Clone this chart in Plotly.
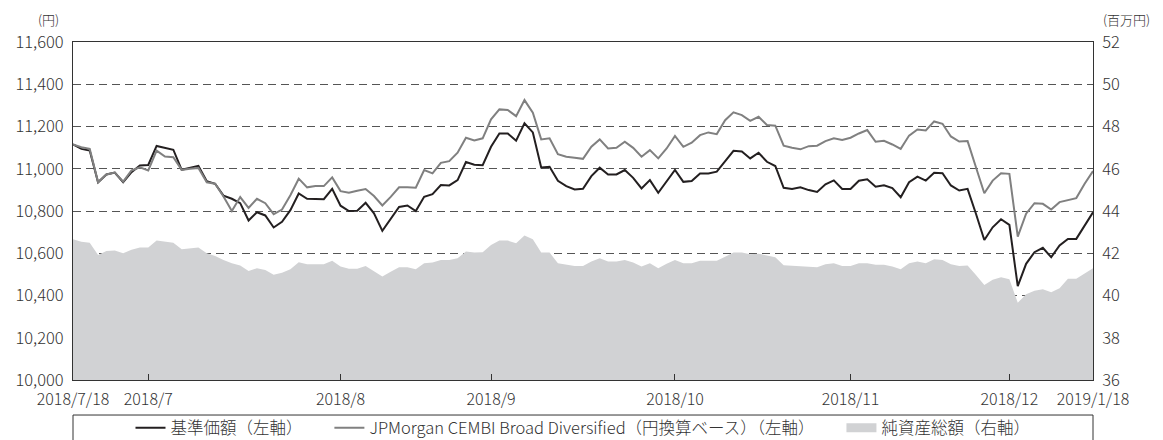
import pandas as pd
import plotly.graph_objects as go

# ---- data ----
jp_holidays = ['2018-09-17', '2018-09-24', '2018-10-08', '2018-11-23', '2018-12-24',
               '2018-12-31', '2019-01-01', '2019-01-02', '2019-01-03', '2019-01-14']
dates = [d for d in pd.bdate_range('2018-07-18', '2019-01-18')
         if d.strftime('%Y-%m-%d') not in jp_holidays]
x_dates = [d.strftime('%Y-%m-%d') for d in dates]

nav = [11115, 11094, 11086, 10936, 10973, 10982, 10936, 10984, 11015, 11018,
       11108, 11099, 11090, 10995, 11004, 11014, 10941, 10929, 10873, 10858,
       10837, 10755, 10794, 10779, 10722, 10749, 10804, 10883, 10858, 10856,
       10856, 10905, 10825, 10800, 10801, 10839, 10789, 10706, 10765, 10819,
       10826, 10800, 10867, 10880, 10923, 10921, 10946, 11032, 11019, 11017,
       11104, 11167, 11167, 11133, 11215, 11172, 11006, 11009, 10943, 10918,
       10902, 10905, 10965, 11005, 10973, 10973, 10994, 10957, 10907, 10946,
       10886, 10940, 10994, 10938, 10942, 10978, 10978, 10986, 11036, 11085,
       11082, 11049, 11076, 11033, 11013, 10910, 10904, 10912, 10899, 10890,
       10926, 10945, 10904, 10904, 10943, 10950, 10915, 10922, 10908, 10865,
       10936, 10963, 10944, 10981, 10979, 10921, 10897, 10905, 10787, 10663,
       10723, 10761, 10734, 10444, 10550, 10605, 10626, 10581, 10637, 10668,
       10668, 10731, 10794]

benchmark = [11115, 11102, 11094, 10936, 10973, 10982, 10939, 10992, 11007, 10992,
             11086, 11058, 11055, 10995, 11000, 11004, 10936, 10929, 10869, 10800,
             10866, 10815, 10858, 10837, 10785, 10807, 10875, 10953, 10912, 10918,
             10918, 10959, 10894, 10886, 10896, 10904, 10871, 10826, 10867, 10912,
             10913, 10910, 10994, 10978, 11028, 11036, 11076, 11147, 11134, 11144,
             11234, 11281, 11278, 11249, 11325, 11265, 11139, 11144, 11069, 11057,
             11052, 11047, 11104, 11139, 11096, 11099, 11128, 11099, 11057, 11088,
             11049, 11096, 11155, 11104, 11123, 11159, 11172, 11164, 11230, 11267,
             11254, 11227, 11246, 11207, 11204, 11109, 11099, 11092, 11107, 11109,
             11131, 11144, 11136, 11147, 11167, 11183, 11128, 11132, 11115, 11094,
             11157, 11186, 11181, 11224, 11213, 11153, 11129, 11131, 11007, 10884,
             10944, 10979, 10976, 10679, 10787, 10837, 10834, 10807, 10842, 10850,
             10861, 10929, 10989]

net_assets = [42.66, 42.55, 42.50, 41.92, 42.11, 42.13, 42.00, 42.16, 42.27, 42.27,
              42.60, 42.55, 42.50, 42.19, 42.24, 42.27, 42.00, 41.87, 41.68, 41.53,
              41.42, 41.16, 41.29, 41.21, 40.98, 41.08, 41.24, 41.57, 41.48, 41.48,
              41.48, 41.64, 41.37, 41.27, 41.27, 41.40, 41.13, 40.90, 41.13, 41.34,
              41.34, 41.24, 41.53, 41.56, 41.68, 41.68, 41.76, 42.08, 42.03, 42.05,
              42.39, 42.60, 42.60, 42.47, 42.84, 42.66, 42.03, 42.03, 41.53, 41.45,
              41.40, 41.40, 41.61, 41.76, 41.61, 41.61, 41.68, 41.56, 41.37, 41.53,
              41.29, 41.50, 41.68, 41.53, 41.53, 41.64, 41.65, 41.65, 41.84, 42.03,
              42.03, 41.95, 41.98, 41.89, 41.81, 41.43, 41.40, 41.40, 41.37, 41.34,
              41.48, 41.53, 41.40, 41.40, 41.53, 41.53, 41.45, 41.45, 41.37, 41.24,
              41.53, 41.61, 41.53, 41.72, 41.68, 41.48, 41.40, 41.42, 40.97, 40.50,
              40.74, 40.86, 40.77, 39.66, 40.06, 40.23, 40.30, 40.15, 40.34, 40.79,
              40.79, 41.02, 41.29]

series_names = ['基準価額（左軸）',
                'JPMorgan CEMBI Broad Diversified（円換算ベース）（左軸）',
                '純資産総額（右軸）']

left_ticks = [10000, 10200, 10400, 10600, 10800, 11000, 11200, 11400, 11600]
right_ticks = [36, 38, 40, 42, 44, 46, 48, 50, 52]

# tick positions: first day, last business day of each month, last day
month_ends = {}
for d in dates:
    month_ends[(d.year, d.month)] = d
tick_vals = [x_dates[0]]
tick_text = ['2018/7/18']
for (yy, mm), d in month_ends.items():
    if (yy, mm) == (2019, 1):
        continue
    tick_vals.append(d.strftime('%Y-%m-%d'))
    tick_text.append(f'{yy}/{mm}')
tick_vals.append(x_dates[-1])
tick_text.append('2019/1/18')

FONT = 'Noto Sans CJK JP'
TXT = '#333333'
AREA = '#d1d2d4'
PAD = '\u00a0' * 6

fig = go.Figure()
fig.add_trace(go.Scatter(x=x_dates, y=net_assets, yaxis='y2', mode='lines',
                         fill='tozeroy', fillcolor=AREA, line=dict(width=0, color=AREA),
                         showlegend=False, hoverinfo='skip'))
fig.add_trace(go.Scatter(x=x_dates, y=nav, mode='lines', name=series_names[0] + PAD,
                         line=dict(color='#231f20', width=2)))
fig.add_trace(go.Scatter(x=x_dates, y=benchmark, mode='lines', name=series_names[1] + PAD,
                         line=dict(color='#808080', width=2)))
fig.add_trace(go.Scatter(x=[None], y=[None], yaxis='y2', mode='lines', name=series_names[2],
                         line=dict(color=AREA, width=9)))

fig.update_layout(
    width=1163, height=440,
    margin=dict(l=73, r=70, t=42, b=60, autoexpand=False),
    paper_bgcolor='white', plot_bgcolor='white',
    font=dict(family=FONT, size=16, color=TXT, weight=300),
    xaxis=dict(type='category', range=[0, len(x_dates) - 1], automargin=False,
               tickmode='array', tickvals=tick_vals, ticktext=tick_text,
               ticks='inside', ticklen=6, tickcolor='#333333', tickwidth=1,
               showline=True, linecolor='#333333', linewidth=1, mirror=True,
               showgrid=False, ticklabelstandoff=5,
               tickfont=dict(size=16, color=TXT, weight=300)),
    yaxis=dict(range=[10000, 11600], tickvals=left_ticks, automargin=False,
               tickformat=',d',
               showgrid=True, gridcolor='#555555', gridwidth=1, griddash='8px,5px',
               showline=True, linecolor='#333333', linewidth=1, mirror=True,
               ticks='', ticklabelstandoff=5,
               zeroline=False, tickfont=dict(size=16.5, color=TXT, weight=300)),
    yaxis2=dict(range=[36, 52], tickvals=right_ticks, overlaying='y', side='right',
                showgrid=False, zeroline=False, automargin=False,
                showline=True, linecolor='#333333', linewidth=1,
                ticks='', ticklabelstandoff=5,
                tickfont=dict(size=16.5, color=TXT, weight=300)),
    legend=dict(orientation='h', x=0.5, xanchor='center', y=-0.142, yanchor='middle',
                font=dict(size=16.5, color=TXT, weight=300), bgcolor='rgba(0,0,0,0)',
                traceorder='normal'),
    shapes=[dict(type='rect', xref='paper', yref='paper', x0=0, x1=1,
                 y0=-0.3, y1=-0.1036, line=dict(color='#333333', width=1),
                 fillcolor='rgba(0,0,0,0)', layer='above')],
    annotations=[
        dict(text='(円)', xref='paper', yref='paper', x=-0.024, y=1.068,
             xanchor='center', yanchor='middle', showarrow=False,
             font=dict(size=13, color=TXT, weight=300)),
        dict(text='(百万円)', xref='paper', yref='paper', x=1.008, y=1.068,
             xanchor='left', yanchor='middle', showarrow=False,
             font=dict(size=13, color=TXT, weight=300)),
    ],
)

fig.write_html('out.html', config={'displayModeBar': False},
               post_script="document.body.style.margin='0';")
